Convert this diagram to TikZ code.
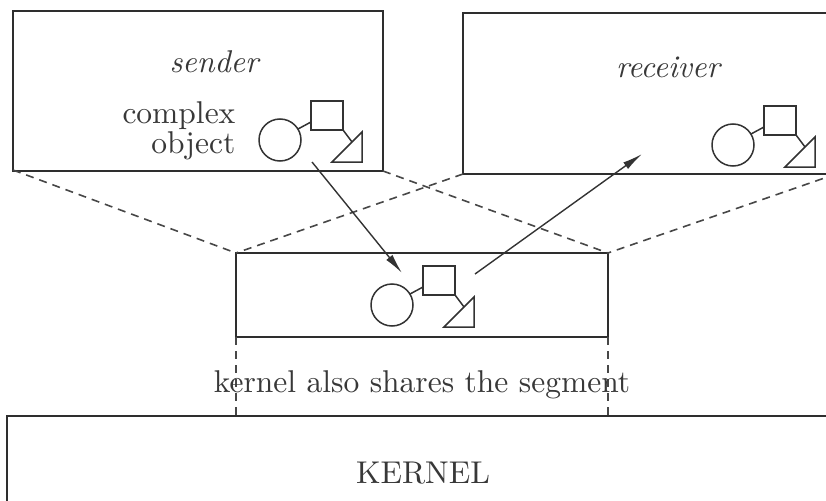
\documentclass[tikz,border=0pt]{standalone}
\usetikzlibrary{arrows.meta}
\begin{document}
\begin{tikzpicture}[x=1pt,y=-1pt,
  ink/.style={draw=black!82,line width=1.8pt},
  objline/.style={draw=black!80,line width=1.5pt},
  dashline/.style={draw=black!72,line width=1.6pt,dash pattern=on 8pt off 6pt},
  txt/.style={text=black!78,scale=3.15,inner sep=0pt,anchor=base},
  flow/.style={draw=black!80,line width=1.4pt,-{Latex[length=20pt,width=8pt]}},
  pics/obj/.style={code={
    \draw[objline] (0,0) circle (21);
    \draw[objline] (31,-39) rectangle (63,-10);
    \draw[objline] (18,-11) -- (31,-18);
    \draw[objline] (63,-10) -- (72,2);
    \draw[objline,line join=miter] (52,22) -- (82,22) -- (82,-8) -- cycle;
  }}]
\useasboundingbox (0,0) rectangle (826,500);
% corners
\coordinate (sTL) at (13,11);  \coordinate (sBR) at (383,171);
\coordinate (sBL) at (13,170);
\coordinate (rTL) at (463,13); \coordinate (rBR) at (836,174);
\coordinate (rBL) at (463,174);
\coordinate (gTL) at (236,253); \coordinate (gBR) at (608,337);
\coordinate (gTR) at (608,253); \coordinate (gBL) at (236,337);
\coordinate (kTL) at (7,416);
\coordinate (kL1) at (236,416); \coordinate (kR1) at (608,416);
% boxes
\draw[ink] (sTL) rectangle (sBR);
\draw[ink] (rTL) rectangle (rBR);
\draw[ink] (gTL) rectangle (gBR);
\draw[ink] (840,416) -- (kTL) -- (7,505);
% dashed projections
\draw[dashline] (sBL) -- (gTL);
\draw[dashline] (sBR) -- (gTR);
\draw[dashline] (rBL) -- (gTL);
\draw[dashline] (rBR) -- (gTR);
\draw[dashline] (gBL) -- (kL1);
\draw[dashline] (gBR) -- (kR1);
% objects
\pic at (280,140) {obj};
\pic at (392,305) {obj};
\pic at (733,145) {obj};
% arrows
\coordinate (a1s) at (312,162); \coordinate (a1e) at (402,273);
\coordinate (a2s) at (475,274); \coordinate (a2e) at (642,154);
\draw[flow] (a1s) -- (a1e);
\draw[flow] (a2s) -- (a2e);
% texts
\node[txt] (sender) at (214,73) {\itshape sender};
\node[txt] (receiver) at (668,78) {\itshape receiver};
\node[txt,anchor=base east,align=right] (complex) at (236,153) {complex\\[-2.7pt]object};
\node[txt] (shares) at (422,392) {kernel also shares the segment};
\node[txt] (kernel) at (423,483) {KERNEL};
\end{tikzpicture}
\end{document}
